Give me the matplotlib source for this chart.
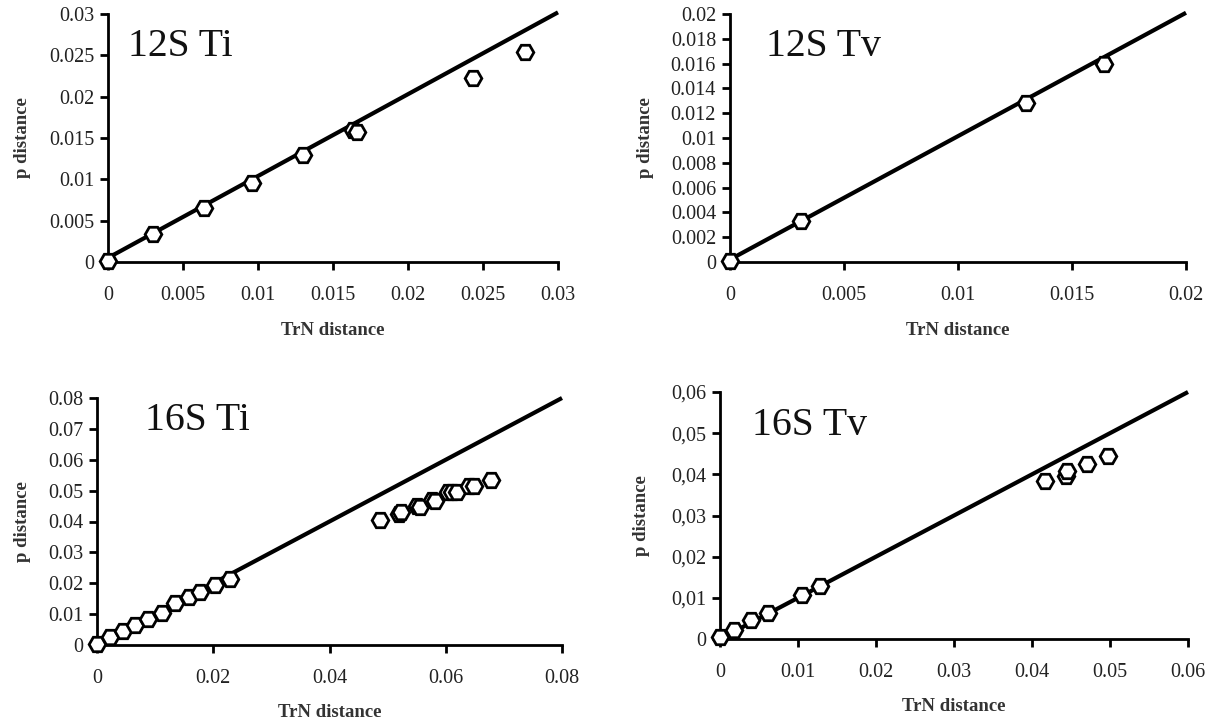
import matplotlib
matplotlib.use("Agg")
import matplotlib.pyplot as plt
from matplotlib.ticker import FixedLocator, FixedFormatter

plt.rcParams['font.family'] = ['Liberation Serif', 'DejaVu Serif']

# ---- data ----
s12ti_x = [0.0, 0.0030, 0.0064, 0.0096, 0.0130, 0.0163, 0.0166, 0.0243, 0.0278]
s12ti_y = [0.0001, 0.0034, 0.0065, 0.0096, 0.0129, 0.0160, 0.0157, 0.0223, 0.0254]
s12ti_line_x = [0.0, 0.030]
s12ti_line_y = [0.0005, 0.0302]

s12tv_x = [0.0, 0.0031, 0.0130, 0.0164]
s12tv_y = [0.0001, 0.0033, 0.0128, 0.0160]
s12tv_line_x = [0.0, 0.020]
s12tv_line_y = [0.0002, 0.0201]

s16ti_x = [0.0, 0.0023, 0.0044, 0.0065, 0.0087, 0.0112, 0.0135, 0.0158, 0.0178, 0.0203, 0.0229,
           0.0487, 0.0519, 0.0523, 0.0550, 0.0555, 0.0576, 0.0581, 0.0604, 0.0610, 0.0620,
           0.0640, 0.0648, 0.0678]
s16ti_y = [0.0004, 0.0025, 0.0045, 0.0066, 0.0085, 0.0105, 0.0135, 0.0155, 0.0173, 0.0195, 0.0215,
           0.0405, 0.0425, 0.0430, 0.0450, 0.0446, 0.0470, 0.0466, 0.0495, 0.0497, 0.0495,
           0.0515, 0.0515, 0.0535]
s16ti_line_x = [0.0, 0.080]
s16ti_line_y = [0.0, 0.080]

s16tv_x = [0.0, 0.0018, 0.0040, 0.0061, 0.0105, 0.0128, 0.0417, 0.0443, 0.0445, 0.0471, 0.0497]
s16tv_y = [0.0004, 0.0023, 0.0047, 0.0064, 0.0106, 0.0128, 0.0383, 0.0397, 0.0407, 0.0424, 0.0445]
s16tv_line_x = [0.0, 0.060]
s16tv_line_y = [0.0, 0.060]

ticks_12ti_x = [0, 0.005, 0.01, 0.015, 0.02, 0.025, 0.03]
labels_12ti_x = ['0', '0.005', '0.01', '0.015', '0.02', '0.025', '0.03']
ticks_12ti_y = ticks_12ti_x
labels_12ti_y = labels_12ti_x

ticks_12tv_x = [0, 0.005, 0.01, 0.015, 0.02]
labels_12tv_x = ['0', '0.005', '0.01', '0.015', '0.02']
ticks_12tv_y = [0, 0.002, 0.004, 0.006, 0.008, 0.01, 0.012, 0.014, 0.016, 0.018, 0.02]
labels_12tv_y = ['0', '0.002', '0.004', '0.006', '0.008', '0.01', '0.012', '0.014', '0.016', '0.018', '0.02']

ticks_16ti_x = [0, 0.02, 0.04, 0.06, 0.08]
labels_16ti_x = ['0', '0.02', '0.04', '0.06', '0.08']
ticks_16ti_y = [0, 0.01, 0.02, 0.03, 0.04, 0.05, 0.06, 0.07, 0.08]
labels_16ti_y = ['0', '0.01', '0.02', '0.03', '0.04', '0.05', '0.06', '0.07', '0.08']

ticks_16tv_x = [0, 0.01, 0.02, 0.03, 0.04, 0.05, 0.06]
labels_16tv_x = ['0', '0.01', '0.02', '0.03', '0.04', '0.05', '0.06']
ticks_16tv_y = ticks_16tv_x
labels_16tv_y = ['0', '0,01', '0,02', '0,03', '0,04', '0,05', '0,06']

panels = [
    dict(title='12S Ti', x=s12ti_x, y=s12ti_y, lx=s12ti_line_x, ly=s12ti_line_y,
         xt=ticks_12ti_x, xl=labels_12ti_x, yt=ticks_12ti_y, yl=labels_12ti_y,
         xlim=0.03, ylim=0.03,
         rect=[108/1217, 1-262/721, 450/1217, 248/721], tpos=(0.045, 0.83), ylab_x=-0.19),
    dict(title='12S Tv', x=s12tv_x, y=s12tv_y, lx=s12tv_line_x, ly=s12tv_line_y,
         xt=ticks_12tv_x, xl=labels_12tv_x, yt=ticks_12tv_y, yl=labels_12tv_y,
         xlim=0.02, ylim=0.02,
         rect=[730/1217, 1-262/721, 456/1217, 248/721], tpos=(0.079, 0.83), ylab_x=-0.185),
    dict(title='16S Ti', x=s16ti_x, y=s16ti_y, lx=s16ti_line_x, ly=s16ti_line_y,
         xt=ticks_16ti_x, xl=labels_16ti_x, yt=ticks_16ti_y, yl=labels_16ti_y,
         xlim=0.08, ylim=0.08,
         rect=[97/1217, 1-645/721, 465/1217, 247/721], tpos=(0.103, 0.87), ylab_x=-0.16),
    dict(title='16S Tv', x=s16tv_x, y=s16tv_y, lx=s16tv_line_x, ly=s16tv_line_y,
         xt=ticks_16tv_x, xl=labels_16tv_x, yt=ticks_16tv_y, yl=labels_16tv_y,
         xlim=0.06, ylim=0.06,
         rect=[720/1217, 1-639/721, 468/1217, 247/721], tpos=(0.069, 0.826), ylab_x=-0.167),
]

fig = plt.figure(figsize=(12.17, 7.21), dpi=100)
fig.patch.set_facecolor('white')

for p in panels:
    ax = fig.add_axes(p['rect'])
    ax.set_xlim(0, p['xlim'])
    ax.set_ylim(0, p['ylim'])
    ax.plot(p['lx'], p['ly'], color='black', lw=3.0, solid_capstyle='butt', zorder=2, clip_on=False)
    ax.plot(p['x'], p['y'], linestyle='none', marker='H', markersize=12,
            markerfacecolor='white', markeredgecolor='black', markeredgewidth=2.0,
            zorder=3, clip_on=False)
    for side in ('top', 'right'):
        ax.spines[side].set_visible(False)
    for side in ('left', 'bottom'):
        ax.spines[side].set_linewidth(2.0)
        ax.spines[side].set_color('black')
    ax.xaxis.set_major_locator(FixedLocator(p['xt']))
    ax.xaxis.set_major_formatter(FixedFormatter(p['xl']))
    ax.yaxis.set_major_locator(FixedLocator(p['yt']))
    ax.yaxis.set_major_formatter(FixedFormatter(p['yl']))
    ax.tick_params(axis='both', direction='out', length=6, width=2.0, colors='black',
                   labelsize=14.5, labelcolor='#222222')
    ax.tick_params(axis='x', pad=11)
    ax.tick_params(axis='y', pad=4)
    ax.set_xlabel('TrN distance', fontsize=13.5, fontweight='bold', color='#333333', va='center')
    ax.xaxis.set_label_coords(0.5, -68/248)
    ax.set_ylabel('p distance', fontsize=13.5, fontweight='bold', color='#333333', va='center')
    ax.yaxis.set_label_coords(p['ylab_x'], 0.5)
    ax.text(p['tpos'][0], p['tpos'][1], p['title'], transform=ax.transAxes,
            fontsize=28.5, color='#111111', ha='left', va='baseline')

fig.savefig('out.png', dpi=100, facecolor='white')
